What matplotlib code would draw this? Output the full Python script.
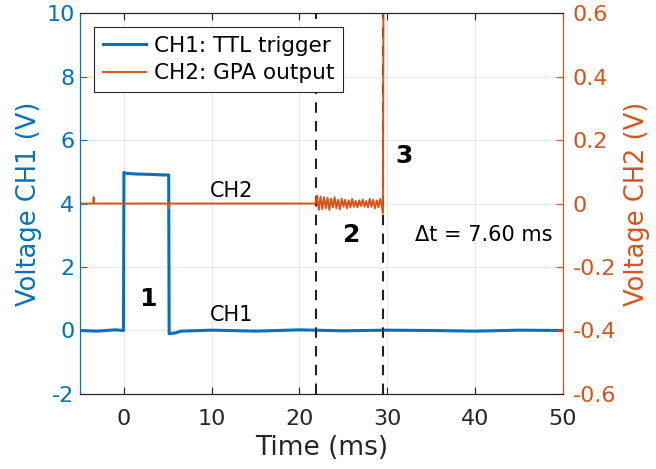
import matplotlib
matplotlib.use("Agg")
import matplotlib.pyplot as plt

plt.rcParams.update({
    "font.family": "DejaVu Sans",
    "axes.unicode_minus": False,
    "xtick.direction": "in",
    "ytick.direction": "in",
})

BLUE = "#0072BD"
ORANGE = "#D95319"

# CH1: TTL trigger (V)
ch1_t = [-5, -3, -1, -0.05, 0.0, 0.3, 1.5, 3.0, 4.5, 5.1, 5.15, 5.8, 6.5,
         10, 15, 20, 25, 30, 35, 40, 45, 50]
ch1_v = [0.0, -0.02, 0.02, 0.0, 4.98, 4.95, 4.93, 4.92, 4.9, 4.9, -0.1, -0.08,
         -0.02, 0.01, -0.02, 0.02, -0.01, 0.01, 0.0, -0.02, 0.01, 0.0]

# CH2: GPA output (V)
ch2_t = [-5, -3.5, -3.45, -3.4, 0, 5, 5.1, 5.2, 10, 15, 20, 21.8,
         22.0, 22.2, 22.4, 22.6, 22.8, 23.0, 23.2, 23.4, 23.6, 23.8, 24.0,
         24.2, 24.4, 24.6, 24.8, 25.0, 25.2, 25.4, 25.6, 25.8, 26.0, 26.2,
         26.4, 26.6, 26.8, 27.0, 27.2, 27.4, 27.6, 27.8, 28.0, 28.2, 28.4,
         28.6, 28.8, 29.0, 29.2, 29.4, 29.5, 29.6, 50]
ch2_v = [0.0, 0.0, 0.02, 0.0, 0.0, 0.0, -0.015, 0.0, 0.0, 0.0, 0.0, 0.0,
         0.025, -0.02, 0.022, -0.018, 0.02, -0.015, 0.018, -0.02, 0.015, -0.012, 0.02,
         -0.015, 0.012, -0.018, 0.015, -0.01, 0.012, -0.015, 0.01, -0.012, 0.015, -0.01,
         0.008, -0.012, 0.01, -0.008, 0.012, -0.01, 0.008, -0.012, 0.015, -0.01, 0.012,
         -0.015, 0.01, -0.012, 0.015, -0.01, -0.03, 1.0, 1.0]

t_start = 21.9
t_end = 29.5

fig, ax = plt.subplots(figsize=(6.56, 4.69), dpi=100)
fig.subplots_adjust(left=0.122, right=0.858, top=0.972, bottom=0.16)
ax2 = ax.twinx()

l1, = ax.plot(ch1_t, ch1_v, color=BLUE, lw=2.2, label="CH1: TTL trigger")
l2, = ax2.plot(ch2_t, ch2_v, color=ORANGE, lw=1.4, label="CH2: GPA output")

for xv in (t_start, t_end):
    ax.axvline(xv, color="#222222", ls=(0, (5, 4)), lw=1.5, zorder=5)

ax.set_xlim(-5, 50)
ax.set_ylim(-2, 10)
ax2.set_ylim(-0.6, 0.6)
ax.set_xticks([0, 10, 20, 30, 40, 50])
ax.set_yticks([-2, 0, 2, 4, 6, 8, 10])
ax2.set_yticks([-0.6, -0.4, -0.2, 0, 0.2, 0.4, 0.6])
ax2.set_yticklabels(["-0.6", "-0.4", "-0.2", "0", "0.2", "0.4", "0.6"])

ax.grid(axis="x", color="#e6e6e6", lw=0.8)
ax.grid(axis="y", color=BLUE, alpha=0.12, lw=0.8)
ax.set_axisbelow(True)

ax.tick_params(axis="x", colors="#262626", labelsize=16, top=True, length=5, pad=11)
ax.tick_params(axis="y", colors=BLUE, labelsize=16, length=5, pad=4)
ax2.tick_params(axis="y", colors=ORANGE, labelsize=16, length=5, pad=7)

for a in (ax, ax2):
    a.spines["top"].set_color("#262626")
    a.spines["bottom"].set_color("#262626")
    a.spines["left"].set_color(BLUE)
    a.spines["right"].set_color(ORANGE)

ax.set_xlabel("Time (ms)", fontsize=19, color="#262626", labelpad=4)
ax.set_ylabel("Voltage CH1 (V)", fontsize=18.5, color=BLUE, labelpad=3)
ax2.set_ylabel("Voltage CH2 (V)", fontsize=18.5, color=ORANGE, labelpad=6)

ax.text(2.7, 1.0, "1", fontsize=18, fontweight="bold", ha="center", va="center")
ax.text(25.9, 3.0, "2", fontsize=18, fontweight="bold", ha="center", va="center")
ax.text(31.9, 5.5, "3", fontsize=18, fontweight="bold", ha="center", va="center")
ax.text(12.3, 4.4, "CH2", fontsize=15, ha="center", va="center")
ax.text(12.3, 0.5, "CH1", fontsize=15, ha="center", va="center")
ax.text(33.2, 3.0, "Δt = 7.60 ms", fontsize=15, ha="left", va="center")

leg = ax2.legend([l1, l2], [l1.get_label(), l2.get_label()], loc="upper left",
                 bbox_to_anchor=(0.029, 0.963), fontsize=15.5, fancybox=False,
                 framealpha=1, edgecolor="#262626", handlelength=2.0,
                 borderpad=0.4, labelspacing=0.35, handletextpad=0.4,
                 borderaxespad=0)
leg.get_frame().set_linewidth(0.8)

fig.savefig("out.png")
